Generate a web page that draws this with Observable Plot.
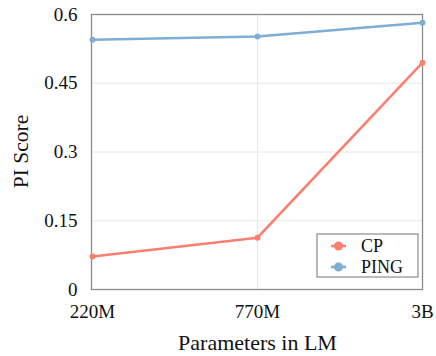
<!DOCTYPE html>
<html><head><meta charset="utf-8">
<script src="https://cdn.jsdelivr.net/npm/d3@7"></script>
<script src="https://cdn.jsdelivr.net/npm/@observablehq/plot@0.6"></script>
<style>
body{margin:0;background:#fff;}
#chart{position:relative;width:436px;height:356px;}
#chart svg, #chart svg text{font-family:"Liberation Serif","DejaVu Serif","Times New Roman",serif !important;}
</style></head>
<body><div id="chart"></div>
<script>
const models = ["220M", "770M", "3B"];
const cpScores = [0.072, 0.113, 0.495];
const pingScores = [0.545, 0.552, 0.582];
const seriesNames = ["CP", "PING"];
const seriesColors = ["#FA7F6F", "#7FAED5"];
const yTicks = [0, 0.15, 0.3, 0.45, 0.6];

const data = [];
models.forEach((m, i) => {
  data.push({model: m, series: "CP", value: cpScores[i]});
  data.push({model: m, series: "PING", value: pingScores[i]});
});

const W = 436, H = 356;
const mL = 91, mR = 14, mT = 14, mB = 67;

const plot = Plot.plot({
  width: W, height: H,
  marginLeft: mL, marginRight: mR, marginTop: mT, marginBottom: mB,
  style: {fontSize: "19px", color: "#111", background: "#fff"},
  x: {type: "point", domain: models, padding: 0, label: null},
  y: {domain: [0, 0.6], label: null},
  color: {domain: seriesNames, range: seriesColors},
  marks: [
    Plot.ruleY(yTicks.slice(1, -1), {stroke: "#e6e6e6", strokeWidth: 1}),
    Plot.ruleX(models.slice(1, -1), {stroke: "#e6e6e6", strokeWidth: 1}),
    Plot.frame({stroke: "#8a8a8a", strokeWidth: 1.3}),
    Plot.axisY(yTicks, {tickSize: 0, tickPadding: 14, tickFormat: d => String(d), fontSize: 19, label: null}),
    Plot.axisX(models, {tickSize: 0, tickPadding: 15, fontSize: 19, label: null, textAnchor: "middle"}),
    Plot.line(data, {x: "model", y: "value", z: "series", stroke: "series", strokeWidth: 2.6}),
    Plot.dot(data, {x: "model", y: "value", fill: "series", r: 3})
  ]
});

const chart = document.getElementById("chart");
chart.appendChild(plot);

const svg = d3.select(plot);
// axis titles
svg.append("text").attr("x", (mL + W - mR) / 2 + 1).attr("y", 350)
  .attr("text-anchor", "middle").attr("font-size", 22).attr("fill", "#111")
  .text("Parameters in LM");
svg.append("text").attr("transform", `translate(28,${(mT + H - mB) / 2}) rotate(-90)`)
  .attr("text-anchor", "middle").attr("font-size", 21.5).attr("fill", "#111")
  .text("PI Score");

// legend
const lg = svg.append("g").attr("transform", "translate(317,234)");
lg.append("rect").attr("width", 101).attr("height", 43).attr("fill", "#fff").attr("stroke", "#8a8a8a").attr("stroke-width", 1.2);
seriesNames.forEach((s, i) => {
  const y = 12 + i * 21;
  lg.append("line").attr("x1", 14).attr("x2", 29).attr("y1", y).attr("y2", y).attr("stroke", seriesColors[i]).attr("stroke-width", 2.6);
  lg.append("circle").attr("cx", 21.5).attr("cy", y).attr("r", 4.5).attr("fill", seriesColors[i]);
  lg.append("text").attr("x", 44).attr("y", y + 6).attr("text-anchor", "start").attr("font-size", 18).attr("fill", "#111").text(s);
});
</script></body></html>
